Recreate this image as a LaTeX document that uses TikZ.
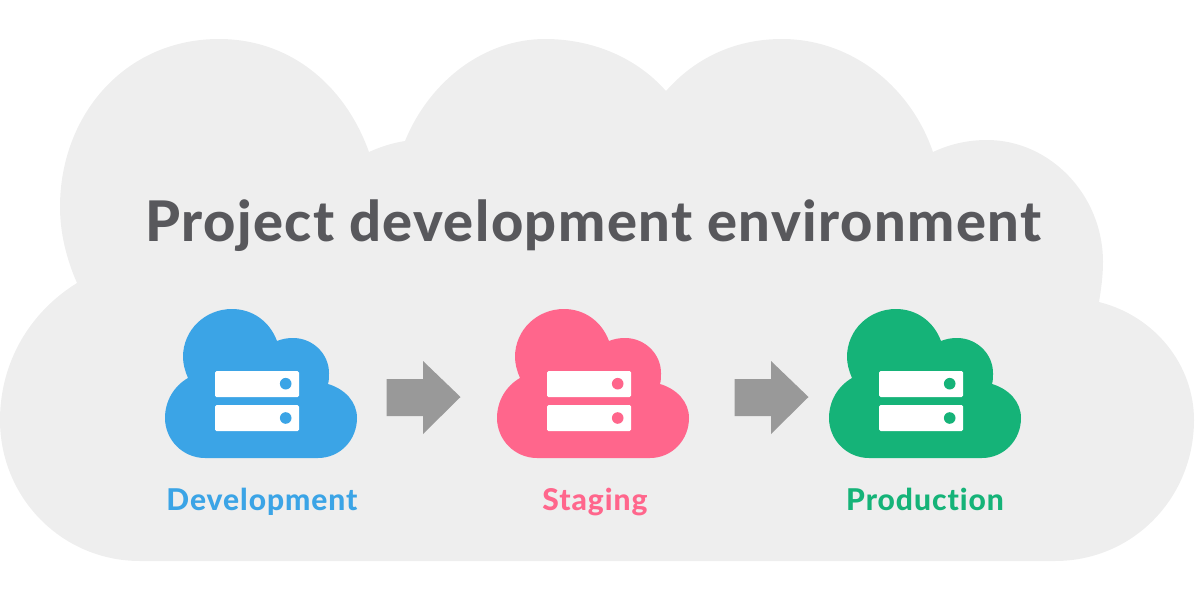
\documentclass[tikz,border=0pt]{standalone}
\usepackage{fontspec}
\setmainfont{Lato}
\newfontfamily\heavyfont[Ligatures=NoCommon]{Lato Heavy}
\definecolor{bgc}{HTML}{EEEEEE}
\definecolor{titlec}{HTML}{58585C}
\definecolor{arrc}{HTML}{999999}
\definecolor{bluec}{HTML}{3BA4E6}
\definecolor{pinkc}{HTML}{FF668C}
\definecolor{greenc}{HTML}{15B378}
\tikzset{
  titletext/.style={text=titlec,font=\fontsize{56}{66}\heavyfont\addfontfeature{LetterSpace=2.6},inner sep=0pt,anchor=base},
  envlabel/.style={font=\fontsize{30}{34}\heavyfont\addfontfeature{LetterSpace=3.2},inner sep=0pt,anchor=base},
  servercloud/.pic={
    \fill[pic actions] (188,378) .. controls (185,371) and (183,364) .. (183,357)
      .. controls (183,330) and (205,309) .. (232,309)
      .. controls (253,309) and (270,322) .. (277,341)
      .. controls (282,339) and (287,338) .. (293,338)
      .. controls (313,338) and (329,354) .. (329,373)
      .. controls (329,377) and (329,381) .. (328,384)
      .. controls (345,389) and (357,402) .. (357,418)
      .. controls (357,440) and (340,458) .. (318,458)
      -- (205,458)
      .. controls (183,458) and (165,440) .. (165,418)
      .. controls (165,401) and (174,386) .. (188,378) -- cycle;
    \fill[white,rounded corners=1.5pt] (215,371) rectangle (299,397);
    \fill[white,rounded corners=1.5pt] (215,405) rectangle (299,431);
    \fill[pic actions] (285.7,383.7) circle (5.8);
    \fill[pic actions] (285.7,418) circle (5.8);
  },
  stagearrow/.pic={
    \fill[arrc] (386.5,379) -- (423,379) -- (423,361) -- (460.5,397) -- (423,434) -- (423,416) -- (386.5,416) -- cycle;
  }
}
\begin{document}
\begin{tikzpicture}[x=1pt,y=-1pt]
\useasboundingbox (0,0) rectangle (1200,600);
\fill[bgc] (77,283) .. controls (66,258) and (60,232) .. (60,207)
  .. controls (60,115) and (125,39) .. (219,39)
  .. controls (290,39) and (345,85) .. (369,152)
  .. controls (380,147) and (392,143) .. (405,141)
  .. controls (430,80) and (485,39) .. (545,39)
  .. controls (593,39) and (637,58) .. (666,91)
  .. controls (695,58) and (735,39) .. (782,39)
  .. controls (850,39) and (910,85) .. (933,152)
  .. controls (950,144) and (968,140) .. (987,140)
  .. controls (1050,140) and (1103,195) .. (1103,262)
  .. controls (1103,276) and (1101,290) .. (1099,302)
  .. controls (1155,316) and (1194,365) .. (1194,420)
  .. controls (1194,498) and (1133,561) .. (1055,561)
  -- (140,561)
  .. controls (62,561) and (0,498) .. (0,420)
  .. controls (0,362) and (30,312) .. (77,283) -- cycle;
\node[titletext] (title) at (593.5,241) {Project development environment};
\pic[bluec] at (0,0) {servercloud};
\pic[pinkc] at (332,0) {servercloud};
\pic[greenc] at (664,0) {servercloud};
\pic at (0,0) {stagearrow};
\pic at (348,0) {stagearrow};
\node[envlabel,text=bluec] (dev) at (262,510) {Development};
\node[envlabel,text=pinkc] (stag) at (595,510) {Staging};
\node[envlabel,text=greenc] (prod) at (925,510) {Production};
\end{tikzpicture}
\end{document}
